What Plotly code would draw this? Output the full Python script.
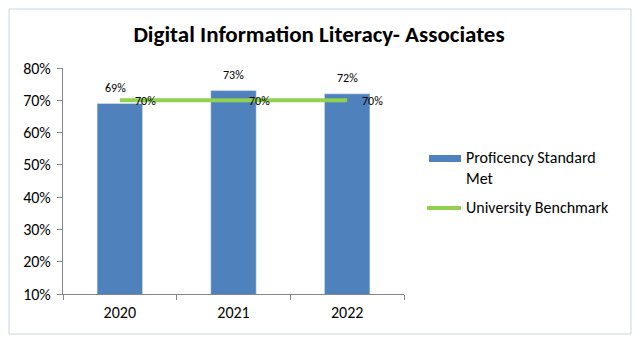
import plotly.graph_objects as go

years = ["2020", "2021", "2022"]
proficiency = [0.69, 0.73, 0.72]
benchmark = [0.70, 0.70, 0.70]
y_ticks = [0.1, 0.2, 0.3, 0.4, 0.5, 0.6, 0.7, 0.8]

bar_color = "#4f81bd"
line_color = "#92d050"
font_family = "Carlito, Calibri, Lato, sans-serif"

# plot area in pixels (used to place the legend and border in paper units)
L, R, T, B = 63, 404, 68, 294
W, H = R - L, B - T


def px(x):
    return (x - L) / W


def py(y):
    return (B - y) / H


fig = go.Figure()
fig.add_trace(go.Bar(
    x=years, y=proficiency, name="Proficency Standard Met",
    marker=dict(color=bar_color), showlegend=False,
))
fig.add_trace(go.Scatter(
    x=years, y=benchmark, name="University Benchmark", mode="lines",
    line=dict(color=line_color, width=4), showlegend=False,
))

# value labels: above each bar, and to the right of each benchmark point
for i, v in enumerate(proficiency):
    fig.add_annotation(x=i, y=v, text=f"{v:.0%}", showarrow=False,
                       xanchor="center", yanchor="bottom", yshift=7,
                       xshift=-4 if i == 0 else 0,
                       font=dict(size=12, color="#000000"))
for i, v in enumerate(benchmark):
    fig.add_annotation(x=i, y=v, text=f"{v:.0%}", showarrow=False,
                       xanchor="left", xshift=13, yshift=-1,
                       font=dict(size=12, color="#000000"))

# legend drawn beside the plot
fig.add_shape(type="rect", xref="paper", yref="paper",
              x0=px(429), x1=px(461), y0=py(162), y1=py(155),
              fillcolor=bar_color, line=dict(width=0))
fig.add_shape(type="line", xref="paper", yref="paper",
              x0=px(427), x1=px(461), y0=py(208), y1=py(208),
              line=dict(color=line_color, width=4))
fig.add_annotation(xref="paper", yref="paper", x=px(464), y=py(146),
                   xanchor="left", yanchor="top", align="left",
                   text="Proficency Standard<br>Met", showarrow=False,
                   font=dict(size=16, color="#000000"))
fig.add_annotation(xref="paper", yref="paper", x=px(464), y=py(207),
                   xanchor="left", yanchor="middle", align="left",
                   text="University Benchmark", showarrow=False,
                   font=dict(size=16, color="#000000"))

# outer chart border
fig.add_shape(type="rect", xref="paper", yref="paper",
              x0=px(9), x1=px(631), y0=py(334), y1=py(9),
              line=dict(color="#c9d4e0", width=1))

fig.update_layout(
    width=638, height=343,
    margin=dict(l=L, r=638 - R, t=T, b=343 - B),
    paper_bgcolor="white", plot_bgcolor="white",
    font=dict(family=font_family, color="#000000"),
    title=dict(text="<b>Digital Information Literacy- Associates</b>",
               x=0.5, xref="container", xanchor="center",
               y=1 - 34 / 343, yref="container", yanchor="middle",
               font=dict(size=23)),
    showlegend=False,
    bargap=0.6,
)
fig.update_xaxes(type="category", categoryorder="array", categoryarray=years,
                 range=[-0.5, 2.5], showline=True, linecolor="#868686",
                 ticks="outside", tickson="boundaries", ticklen=5,
                 ticklabelstandoff=4,
                 tickcolor="#868686", tickfont=dict(size=16), showgrid=False)
fig.update_yaxes(range=[0.1, 0.8], tickvals=y_ticks, tickformat=".0%",
                 showline=True, linecolor="#868686", ticks="outside",
                 ticklen=5, ticklabelstandoff=3, tickcolor="#868686",
                 tickfont=dict(size=16), showgrid=False, zeroline=False)

fig.write_html("out.html")
